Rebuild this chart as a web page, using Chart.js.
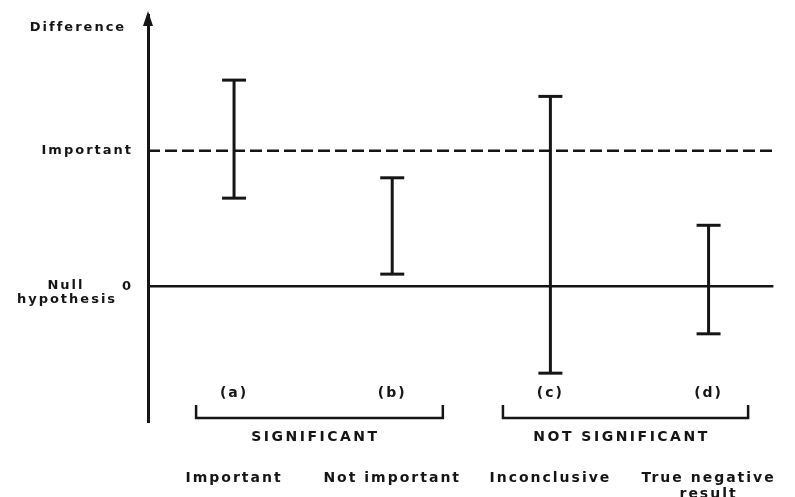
<!DOCTYPE html>
<html lang="en"><head>
<title>Confidence intervals and significance</title>
<style>
* { margin: 0; padding: 0 }
body { background: #fff; }
#Wrap { width: 795px; height: 497px; position: relative; }
</style>
<script src="https://cdn.jsdelivr.net/npm/chart.js"></script>
<script>

const categories = ["(a)", "(b)", "(c)", "(d)"];
const outcomes = ["Important", "Not important", "Inconclusive", ["True negative", "result"]];
const ciLow = [0.65, 0.09, -0.64, -0.35];
const ciHigh = [1.52, 0.80, 1.40, 0.45];

const NULL_LEVEL = 0;
const IMPORTANT_LEVEL = 1;
const yTickValues = [NULL_LEVEL, IMPORTANT_LEVEL];
const yTickLabels = ["0", "Important"];

const groupLabels = ["SIGNIFICANT", "NOT SIGNIFICANT"];
const groupStart = [-0.24, 1.70];
const groupEnd = [1.32, 3.25];

const X_MIN = -0.544;
const X_MAX = 3.42;
const INK = "#151515";
const FAMILY = "'DejaVu Sans', 'Liberation Sans', sans-serif";
const SPACING = "2px";

function get(id) {
    return document.getElementById(id);
}

let global = {
    chart: null,
};

function text(ctx, str, x, y, align) {
    ctx.textAlign = align || "center";
    ctx.fillText(str, x, y);
}

// arrow, labels, brackets - everything that is not a scale tick
const decorPlugin = {
    id: "decor",
    beforeDraw(chart) {
        chart.ctx.letterSpacing = SPACING;
    },
    afterDraw(chart) {
        const ctx = chart.ctx;
        const xs = chart.scales.x;
        const ys = chart.scales.y;
        const area = chart.chartArea;
        ctx.save();
        ctx.fillStyle = INK;
        ctx.strokeStyle = INK;
        ctx.letterSpacing = SPACING;

        // arrow head on the y axis
        ctx.beginPath();
        ctx.moveTo(area.left, area.top - 4);
        ctx.lineTo(area.left - 5, area.top + 11);
        ctx.lineTo(area.left + 5, area.top + 11);
        ctx.closePath();
        ctx.fill();

        ctx.font = "bold 13px " + FAMILY;
        ctx.textBaseline = "middle";
        text(ctx, "Difference", area.left - 70, 28);
        const y0 = ys.getPixelForValue(NULL_LEVEL);
        text(ctx, "Null", area.left - 82, y0 - 1);
        text(ctx, "hypothesis", area.left - 81, y0 + 13);

        ctx.font = "bold 14px " + FAMILY;
        for (let i = 0; i < categories.length; i++) {
            text(ctx, categories[i], xs.getPixelForValue(i), area.bottom - 29);
        }

        ctx.lineWidth = 2.5;
        ctx.letterSpacing = "2.5px";
        for (let g = 0; g < groupLabels.length; g++) {
            const x1 = xs.getPixelForValue(groupStart[g]);
            const x2 = xs.getPixelForValue(groupEnd[g]);
            const yb = area.bottom - 4;
            ctx.beginPath();
            ctx.moveTo(x1, yb - 13);
            ctx.lineTo(x1, yb);
            ctx.lineTo(x2, yb);
            ctx.lineTo(x2, yb - 13);
            ctx.stroke();
            text(ctx, groupLabels[g], (x1 + x2) / 2 - 4, area.bottom + 15);
        }
        ctx.restore();
    },
};

function bodyOnLoad() {
    const datasets = [];

    datasets.push({
        data: [{x: X_MIN, y: IMPORTANT_LEVEL}, {x: X_MAX, y: IMPORTANT_LEVEL}],
        borderColor: INK,
        borderWidth: 2.5,
        borderDash: [12, 5],
        pointRadius: 0,
    });
    datasets.push({
        data: [{x: X_MIN, y: NULL_LEVEL}, {x: X_MAX - 0.01, y: NULL_LEVEL}],
        borderColor: INK,
        borderWidth: 2.5,
        pointRadius: 0,
    });

    // one dataset per interval, caps drawn as 'line' points
    for (let i = 0; i < categories.length; i++) {
        datasets.push({
            label: categories[i],
            data: [{x: i, y: ciLow[i]}, {x: i, y: ciHigh[i]}],
            borderColor: INK,
            borderWidth: 3,
            pointStyle: "line",
            pointRadius: 12,
            pointBorderWidth: 3,
            pointBorderColor: INK,
        });
    }

    global.chart = new Chart(get("CiChart"), {
        type: "line",
        data: { datasets: datasets },
        plugins: [decorPlugin],
        options: {
            responsive: false,
            animation: false,
            events: [],
            layout: { padding: { top: 14, right: 20, left: 0, bottom: 0 } },
            plugins: {
                legend: { display: false },
                tooltip: { enabled: false },
            },
            scales: {
                x: {
                    type: "linear",
                    min: X_MIN,
                    max: X_MAX,
                    grid: { display: false },
                    border: { display: false },
                    afterFit: function(s) {
                        s.height = 75;
                        s.paddingLeft = 0;
                        s.paddingRight = 0;
                    },
                    afterBuildTicks: function(s) {
                        s.ticks = outcomes.map(function(o, i) { return {value: i}; });
                    },
                    ticks: {
                        padding: 40,
                        color: INK,
                        maxRotation: 0,
                        autoSkip: false,
                        font: { family: FAMILY, size: 14, weight: "bold", lineHeight: 1.15 },
                        callback: function(val) { return outcomes[val]; },
                    },
                },
                y: {
                    min: -1,
                    max: 2,
                    grid: { display: false },
                    border: { display: true, color: INK, width: 3 },
                    afterFit: function(s) {
                        s.width = 148;
                        s.paddingTop = 0;
                        s.paddingBottom = 0;
                    },
                    afterBuildTicks: function(s) {
                        s.ticks = yTickValues.map(function(v) { return {value: v}; });
                    },
                    ticks: {
                        padding: 7,
                        color: INK,
                        font: { family: FAMILY, size: 13, weight: "bold" },
                        callback: function(val) {
                            const k = yTickValues.indexOf(val);
                            return k < 0 ? null : yTickLabels[k];
                        },
                    },
                },
            },
        },
    });
}

</script>
</head><body onload="bodyOnLoad()">

<div id="Wrap">
  <canvas id="CiChart" width="795" height="497"></canvas>
</div>

</body></html>
